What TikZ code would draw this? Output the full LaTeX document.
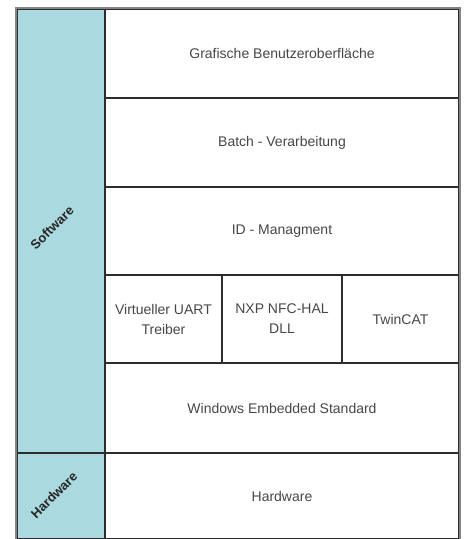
\documentclass[tikz,border=0pt]{standalone}
\usepackage{fontspec}
\setmainfont{Liberation Sans}
\usetikzlibrary{positioning}
\definecolor{layerblue}{RGB}{170,217,224}
\definecolor{linegray}{RGB}{45,45,45}
\definecolor{framegray}{RGB}{135,130,135}
\tikzset{
  layer/.style={draw=linegray, line width=1.2pt, fill=white, minimum width=354pt, minimum height=89pt,
    inner sep=0pt, text=black!72, font=\fontsize{14}{20}\selectfont, align=center},
  cell/.style={layer, minimum height=88pt},
  side/.style={draw=linegray, line width=1.2pt, fill=layerblue, minimum width=88pt, inner sep=0pt},
  sidelabel/.style={rotate=45, inner sep=0pt, text=black!85, font=\bfseries\fontsize{13}{15}\selectfont},
  frame/.style={draw=framegray, line width=2pt}
}

\begin{document}
\begin{tikzpicture}[x=1pt,y=-1pt]
        \useasboundingbox (0,0) rectangle (466,539);
        \node[side, minimum height=444pt] (soft) at (61,231) {};
        \node[side, minimum height=86pt] (hard) at (61,496) {};
        \node[sidelabel] (softlabel) at (52,228) {Software};
        \node[sidelabel] (hardlabel) at (54,495) {Hardware};

        \node[layer] (gui) at (282,53.5) {Grafische Benutzeroberfläche};
        \node[layer] (batch) at (282,142.5) {Batch - Verarbeitung};
        \node[layer, minimum height=88pt] (idm) at (282,231) {ID - Managment};
        \node[cell, minimum width=117pt] (uart) at (163.5,319) {Virtueller UART\\Treiber};
        \node[cell, minimum width=120pt] (nfc) at (282,319) {NXP NFC-HAL\\DLL};
        \node[cell, minimum width=117pt] (twincat) at (400.5,319) {TwinCAT};
        \node[layer, minimum height=90pt] (wes) at (282,408) {Windows Embedded Standard};
        \node[layer, minimum height=86pt] (hw) at (282,496) {Hardware};

        \draw[frame] (soft.north west) rectangle (hw.south east);
      \end{tikzpicture}
\end{document}
